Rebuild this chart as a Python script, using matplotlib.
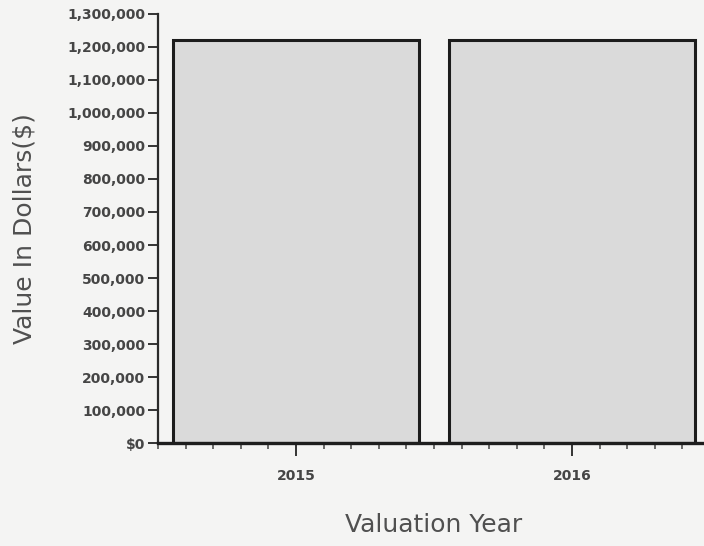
"""
Property valuation by year: simple two-bar chart.
"""

import matplotlib
matplotlib.use("Agg")
import matplotlib.pyplot as plt
from matplotlib.ticker import FuncFormatter, MultipleLocator

# data
years = [2015, 2016]
values = [1222000, 1222000]

y_ticks = list(range(0, 1300001, 100000))

BG = "#f4f4f3"
TEXT = "#454545"


def dollar_fmt(v, _pos):
    return "$0" if v == 0 else f"{int(v):,}"


fig = plt.figure(figsize=(7.04, 5.46), dpi=100, facecolor=BG)
ax = fig.add_axes([0.2244, 0.1886, 0.784, 0.7858], facecolor=BG)

ax.bar(years, values, width=0.89, color="#dadada",
       edgecolor="#1c1c1c", linewidth=2.2, zorder=1)

ax.set_xlim(2014.5, 2016.5)
ax.set_ylim(0, 1300000)

ax.set_yticks(y_ticks)
ax.yaxis.set_major_formatter(FuncFormatter(dollar_fmt))
ax.set_xticks(years)
ax.set_xticklabels([str(y) for y in years])
ax.xaxis.set_minor_locator(MultipleLocator(0.1))

for side in ("top", "right"):
    ax.spines[side].set_visible(False)
ax.spines["left"].set_color("#2a2a2a")
ax.spines["left"].set_linewidth(1.6)
ax.spines["bottom"].set_color("#1e1e1e")
ax.spines["bottom"].set_linewidth(2.4)

ax.tick_params(axis="y", length=7, width=1.4, color="#333333", pad=2,
               labelsize=10, labelcolor=TEXT)
ax.tick_params(axis="x", which="major", length=9, width=1.4, color="#333333",
               pad=9.5, labelsize=10, labelcolor=TEXT)
ax.tick_params(axis="x", which="minor", length=4, width=1.1, color="#444444")
for lab in ax.get_xticklabels() + ax.get_yticklabels():
    lab.set_fontweight("bold")

ax.set_ylabel("Value In Dollars($)", fontsize=18, color="#505050", labelpad=22)
ax.set_xlabel("Valuation Year", fontsize=18, color="#505050", labelpad=22)

fig.savefig("out.png", dpi=100, facecolor=BG)
